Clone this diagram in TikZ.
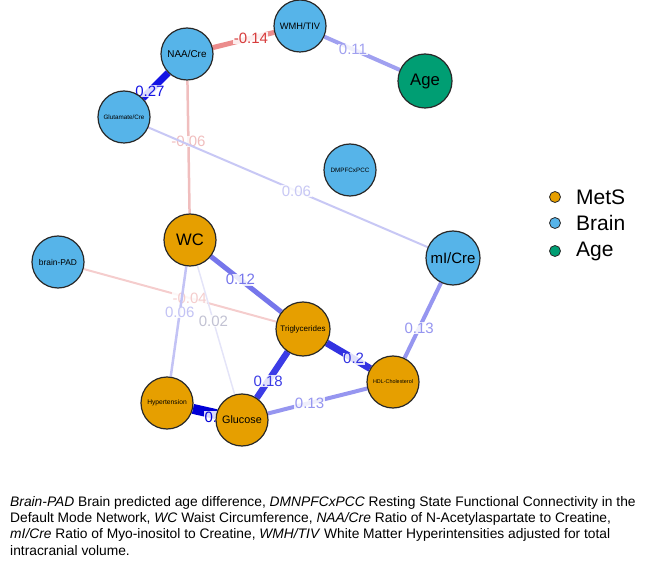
\documentclass[tikz,border=0pt]{standalone}
\usepackage{fontspec}
\setmainfont{Liberation Sans}
\pgfdeclarelayer{bg}
\pgfsetlayers{bg,main}
\definecolor{mets}{RGB}{230,159,0}
\definecolor{brain}{RGB}{86,180,233}
\definecolor{agec}{RGB}{0,158,115}
\definecolor{ndraw}{RGB}{40,40,40}
\tikzset{
  vnode/.style={circle,draw=ndraw,line width=1.2pt,minimum size=52pt,inner sep=0pt,text=black,align=center},
  fs/.style={font=\fontsize{#1}{#1}\selectfont},
  elab/.style={font=\fontsize{15}{15}\selectfont,inner sep=0.5pt,fill=white,fill opacity=0.85,text opacity=1},
  edge/.style={line cap=butt},
  legdot/.style={circle,draw=ndraw,line width=0.8pt,minimum size=11pt,inner sep=0pt},
  legtxt/.style={anchor=west,font=\fontsize{21}{21}\selectfont,inner sep=0pt},
  capline/.style={anchor=west,font=\fontsize{13.8}{13.8}\selectfont,inner sep=0pt}
}
\begin{document}
\begin{tikzpicture}[x=1pt,y=-1pt]
\useasboundingbox (0,0) rectangle (645,561);
% nodes
\node[vnode,fill=brain,fs=9.9] (naa) at (187,54) {NAA/Cre};
\node[vnode,fill=brain,fs=9.3] (wmh) at (300,26) {WMH/TIV};
\node[vnode,fill=agec,fs=16.7,minimum size=54pt] (age) at (425,81) {Age};
\node[vnode,fill=brain,fs=6.3] (glu) at (124,117) {Glutamate/Cre};
\node[vnode,fill=brain,fs=6.3] (dmn) at (350,170) {DMPFCxPCC};
\node[vnode,fill=brain,fs=15,minimum size=54pt] (mi) at (453,258) {mI/Cre};
\node[vnode,fill=mets,fs=16.6] (wc) at (190,240) {WC};
\node[vnode,fill=brain,fs=8.4] (bpad) at (58,262) {brain-PAD};
\node[vnode,fill=mets,fs=8,minimum size=54pt] (tri) at (303,329) {Triglycerides};
\node[vnode,fill=mets,fs=5.4] (hdl) at (393,382) {HDL-Cholesterol};
\node[vnode,fill=mets,fs=6.7] (hyp) at (167,403) {Hypertension};
\node[vnode,fill=mets,fs=10.8] (gluc) at (242,420) {Glucose};
% edges
\begin{pgfonlayer}{bg}
\definecolor{e1}{RGB}{235,140,140}
\definecolor{e1t}{RGB}{215,60,60}
\definecolor{e2}{RGB}{160,160,240}
\definecolor{e3}{RGB}{20,20,228}
\definecolor{e4}{RGB}{240,190,190}
\definecolor{e5}{RGB}{200,200,245}
\definecolor{e6}{RGB}{245,205,205}
\definecolor{e7}{RGB}{118,118,235}
\definecolor{e8}{RGB}{195,195,245}
\definecolor{e9}{RGB}{228,228,248}
\definecolor{e10}{RGB}{150,150,240}
\definecolor{e11}{RGB}{60,60,230}
\definecolor{e12}{RGB}{50,50,225}
\definecolor{e13}{RGB}{150,150,240}
\definecolor{e14}{RGB}{0,0,215}
\draw[edge,e1,line width=5pt] (naa) -- node[elab,pos=0.62,text=e1t] {-0.14} (wmh);
\draw[edge,e2,line width=4pt] (wmh) -- node[elab,pos=0.38,text=e2] {0.11} (age);
\draw[edge,e3,line width=7pt] (naa) -- node[elab,pos=0.72,text=e3] {0.27} (glu);
\draw[edge,e4,line width=2.5pt] (naa) -- node[elab,pos=0.46,text=e4] {-0.06} (wc);
\draw[edge,e5,line width=2pt] (glu) -- node[elab,pos=0.53,text=e5] {0.06} (mi);
\draw[edge,e6,line width=2pt] (bpad) -- node[elab,pos=0.55,text=e6] {-0.04} (tri);
\draw[edge,e7,line width=5pt] (wc) -- node[elab,pos=0.42,text=e7] {0.12} (tri);
\draw[edge,e8,line width=2.5pt] (wc) -- node[elab,pos=0.42,text=e8] {0.06} (hyp);
\draw[edge,e9,line width=1.5pt] (wc) -- node[elab,pos=0.43,text=e9!85!black] {0.02} (gluc);
\draw[edge,e10,line width=4pt] (mi) -- node[elab,pos=0.6,text=e10] {0.13} (hdl);
\draw[edge,e11,line width=6.5pt] (tri) -- node[elab,pos=0.63,text=e11] {0.18} (gluc);
\draw[edge,e12,line width=7pt] (tri) -- node[elab,pos=0.62,text=e12] {0.2} (hdl);
\draw[edge,e13,line width=4pt] (gluc) -- node[elab,pos=0.42,text=e13] {0.13} (hdl);
\draw[edge,e14,line width=10pt] (hyp) -- (gluc);
\node[elab,text=e14] (l14) at (215,417) {0.4};
\end{pgfonlayer}
% legend
\node[legdot,fill=mets] (d1) at (555,197) {};
\node[legtxt] (t1) at (576,197) {MetS};
\node[legdot,fill=brain] (d2) at (555,223) {};
\node[legtxt] (t2) at (576,223) {Brain};
\node[legdot,fill=agec] (d3) at (555,251) {};
\node[legtxt] (t3) at (576,251) {Age};
% caption
\node[capline] (c1) at (10,503) {\textit{Brain-PAD} Brain predicted age difference, \textit{DMNPFCxPCC} Resting State Functional Connectivity in the};
\node[capline] (c2) at (10,519) {Default Mode Network, \textit{WC} Waist Circumference, \textit{NAA/Cre} Ratio of N-Acetylaspartate to Creatine,};
\node[capline] (c3) at (10,535) {\textit{mI/Cre} Ratio of Myo-inositol to Creatine, \textit{WMH/TIV} White Matter Hyperintensities adjusted for total};
\node[capline] (c4) at (10,551) {intracranial volume.};
\end{tikzpicture}
\end{document}
